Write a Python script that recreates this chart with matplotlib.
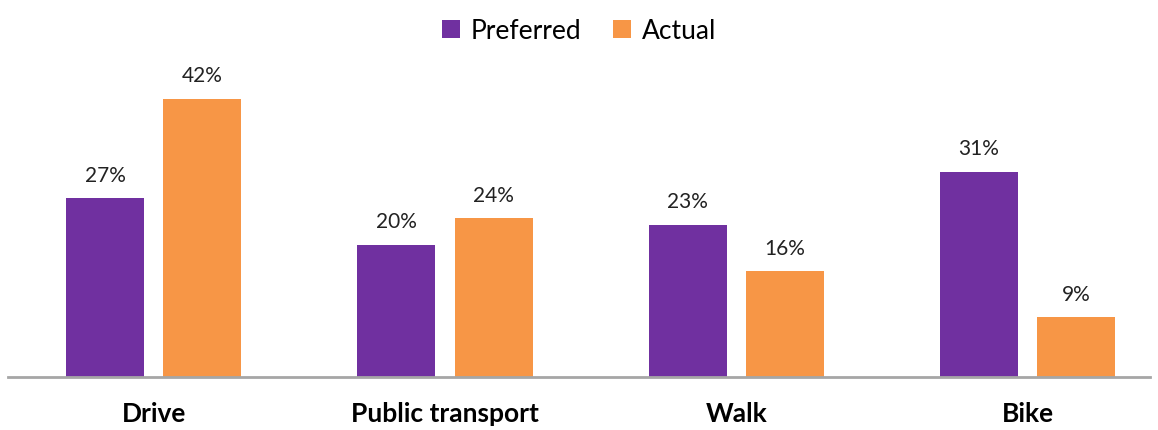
import matplotlib
matplotlib.use("Agg")
import matplotlib.pyplot as plt
import numpy as np

categories = ["Drive", "Public transport", "Walk", "Bike"]
preferred = [27, 20, 23, 31]
actual = [42, 24, 16, 9]

purple = "#7030A0"
orange = "#F79646"

plt.rcParams['font.family'] = ['Lato', 'DejaVu Sans']

fig = plt.figure(figsize=(11.58, 4.31), dpi=100)
ax = fig.add_axes([8 / 1158, 53 / 431, 1142 / 1158, 318 / 431])

x = np.arange(len(categories))
w = 0.268
off = 0.167
b1 = ax.bar(x - off, preferred, w, color=purple, label="Preferred")
b2 = ax.bar(x + off, actual, w, color=orange, label="Actual")

for bars, vals in [(b1, preferred), (b2, actual)]:
    for r, v in zip(bars, vals):
        ax.text(r.get_x() + r.get_width() / 2, v + 2.0, f"{v}%",
                ha="center", va="bottom", fontsize=15, color="#222222")

ax.set_xlim(-0.5, 3.42)
ax.set_ylim(0, 48)
ax.set_xticks(x)
ax.set_xticklabels(categories, fontsize=19, fontweight="bold")
ax.tick_params(axis="x", length=0, pad=17)
ax.set_yticks([])
for s in ["top", "right", "left"]:
    ax.spines[s].set_visible(False)
ax.spines["bottom"].set_color("#A6A6A6")
ax.spines["bottom"].set_linewidth(2)

fig.legend(loc="upper center", bbox_to_anchor=(0.5, 1.01), ncol=2, frameon=False,
           fontsize=19, handlelength=0.7, handleheight=0.7, handletextpad=0.4,
           columnspacing=1.2)

fig.savefig("out.png", dpi=100)
